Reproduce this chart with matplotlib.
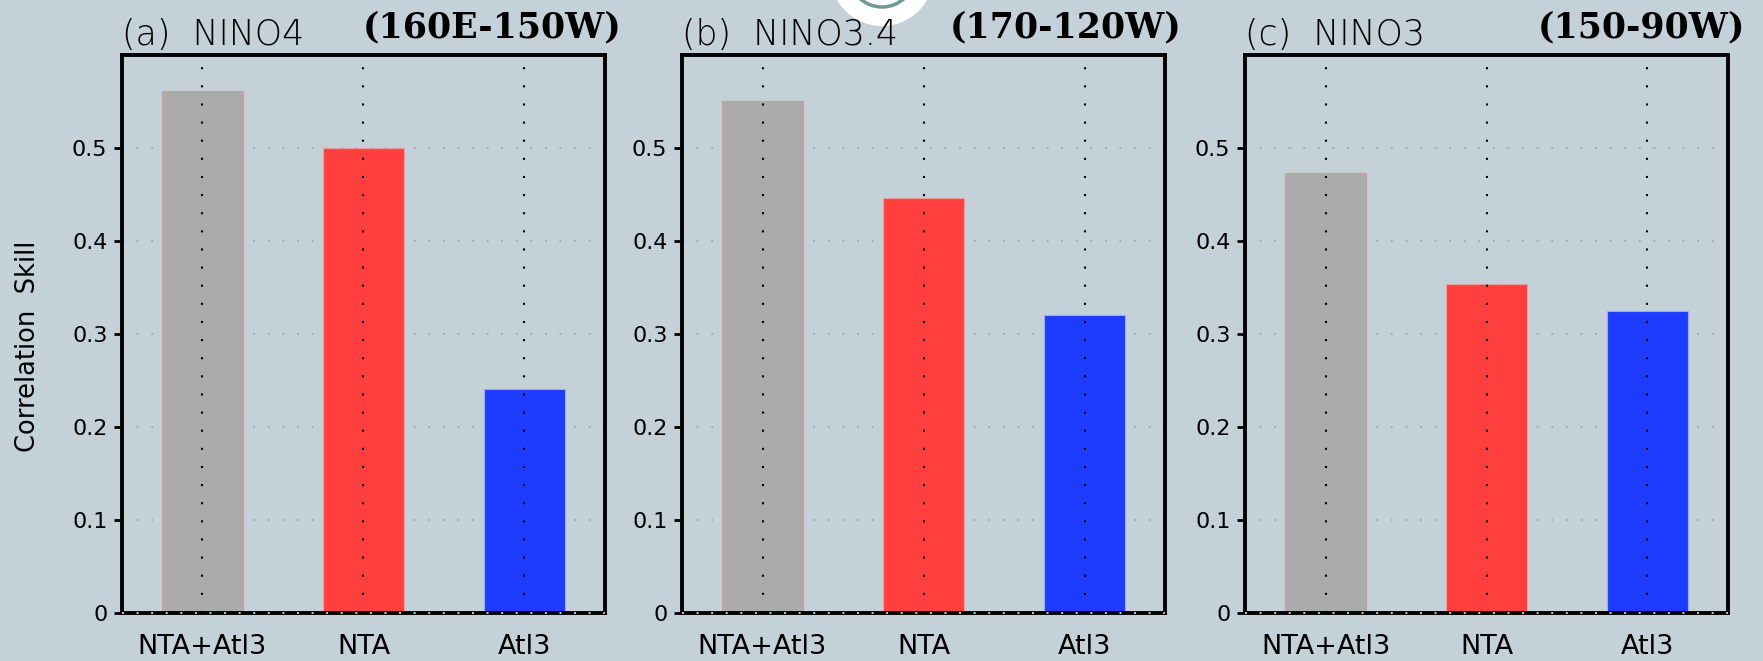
import numpy as np
import matplotlib
matplotlib.use('Agg')
import matplotlib.pyplot as plt
from matplotlib.patches import Ellipse

# 예측 모델별 상관계수
categories = ['NTA+Atl3', 'NTA', 'Atl3']
regions = ['NINO4', 'NINO3.4', 'NINO3']
panel_tags = ['(a)', '(b)', '(c)']
region_ranges = ['(160E-150W)', '(170-120W)', '(150-90W)']
skill_nino4 = [0.561, 0.500, 0.241]
skill_nino34 = [0.550, 0.446, 0.320]
skill_nino3 = [0.473, 0.354, 0.325]
yticks = [0, 0.1, 0.2, 0.3, 0.4, 0.5]
ytick_labels = ['0', '0.1', '0.2', '0.3', '0.4', '0.5']

bar_colors = ['#ABABAB', '#FF3E3E', '#1E3CFF']
edge_colors = ['#D49A9A', '#E8A0A0', '#A0A8F0']
bg = '#C5D1D8'

W, H = 1763, 661
fig = plt.figure(figsize=(W / 100, H / 100), dpi=100, facecolor=bg)

# 상단 가운데 흰 원 (원본 이미지의 워터마크 흔적)
fig.add_artist(Ellipse((882 / W, 1 + 26 / H), 2 * 52 / W, 2 * 52 / H,
                       transform=fig.transFigure, facecolor='white',
                       edgecolor='none', zorder=0))
fig.add_artist(Ellipse((882 / W, 1 + 26 / H), 2 * 33 / W, 2 * 33 / H,
                       transform=fig.transFigure, facecolor='none',
                       edgecolor='#6E9A95', lw=2.5, zorder=0))

lefts = [122 / W, 682 / W, 1245 / W]
ax_w = 483 / W
ax_b = 48 / H
ax_h = 558 / H
all_skill = [skill_nino4, skill_nino34, skill_nino3]
x = np.arange(len(categories))

for i in range(3):
    ax = fig.add_axes([lefts[i], ax_b, ax_w, ax_h])
    ax.set_facecolor(bg)

    # 가로 격자 (연한 점선)
    for yv in yticks[1:]:
        ax.axhline(yv, color='#A3ADB3', ls=(0, (1, 6.5)), lw=1.4, zorder=1)

    ax.bar(x, all_skill[i], width=0.5, color=bar_colors,
           edgecolor=edge_colors, linewidth=0.8, zorder=2)

    # 세로 점선 (막대 중심)
    for xv in x:
        ax.axvline(xv, color='black', ls=(0, (1, 7.7)), lw=1.5, zorder=3)

    ax.set_xlim(-0.5, 2.5)
    ax.set_ylim(0, 0.6)
    ax.set_yticks(yticks)
    ax.set_yticklabels(ytick_labels, fontsize=16)
    ax.set_xticks(x)
    ax.set_xticklabels(categories, fontsize=19.5)
    ax.tick_params(axis='y', direction='out', length=5.5, width=2, pad=5)
    ax.tick_params(axis='x', length=0, pad=15)
    for s in ax.spines.values():
        s.set_linewidth(2.8)
        s.set_zorder(4)

    # 0선 위의 밝은 점
    ax.axhline(0, color='#C8D0D6', ls=(0, (1, 6.5)), lw=1.4, zorder=5,
               clip_on=False)

    ax.text(0.0, 1.018, panel_tags[i] + '  ' + regions[i], transform=ax.transAxes,
            ha='left', va='baseline', fontsize=25, color='black',
            fontweight='ultralight')
    ax.text(1.035, 1.032, region_ranges[i], transform=ax.transAxes,
            ha='right', va='baseline', fontsize=25, fontweight='bold',
            family='DejaVu Serif')

fig.text(28 / W, 1 - 346 / H, 'Correlation  Skill', rotation=90,
         ha='center', va='center', fontsize=18.5)

fig.savefig('out.png', dpi=100, facecolor=bg)
